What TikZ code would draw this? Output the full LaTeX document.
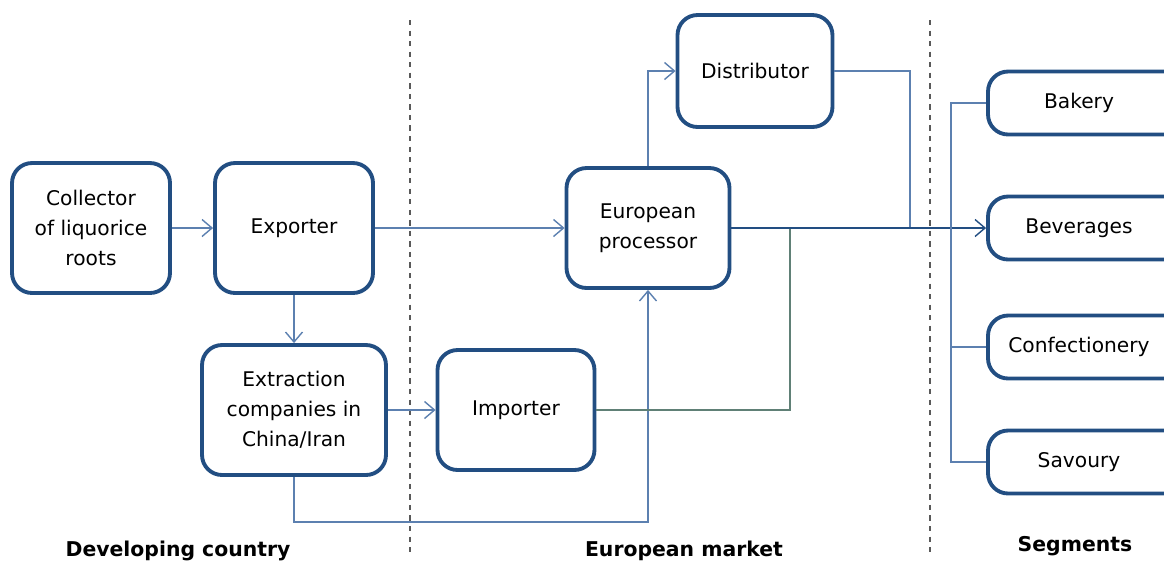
\documentclass[tikz,border=0pt]{standalone}
\usepackage{fontspec}
\setmainfont{DejaVu Sans}
\usetikzlibrary{arrows.meta}

\definecolor{boxblue}{RGB}{34,78,130}
\definecolor{flowblue}{RGB}{92,128,176}
\definecolor{flowgreen}{RGB}{96,128,118}

\tikzset{
    stage/.style={draw=boxblue, line width=2.2pt, rounded corners=0.4cm, fill=white,
        align=center, font=\fontsize{11.5}{17}\selectfont, inner sep=2pt},
    % boxes run off the right border, text sits left of centre
    segbox/.style={stage, minimum width=4.2cm, minimum height=1.26cm,
        execute at end node={\hspace{0.56cm}}},
    flow/.style={draw=flowblue, line width=0.8pt},
    region/.style={font=\bfseries\fontsize{11.6}{13}\selectfont}
}

\begin{document}
\begin{tikzpicture}[x=0.02cm, y=-0.02cm, >={Straight Barb[length=2mm, width=3.4mm]}]
    \useasboundingbox (0,0) rectangle (1164,566);

    % market borders
    \draw[dashed, gray!70!black, line width=0.9pt] (410,20) -- (410,556);
    \draw[dashed, gray!70!black, line width=0.9pt] (930,20) -- (930,556);

    \node[stage, minimum width=3.16cm, minimum height=2.6cm] (coll) at (91,228) {Collector\\of liquorice\\roots};
    \node[stage, minimum width=3.16cm, minimum height=2.6cm] (exp) at (294,228) {Exporter};
    \node[stage, minimum width=3.68cm, minimum height=2.6cm] (extr) at (294,410) {Extraction\\companies in\\China/Iran};
    \node[stage, minimum width=3.14cm, minimum height=2.4cm] (imp) at (516,410) {Importer};
    \node[stage, minimum width=3.26cm, minimum height=2.4cm] (proc) at (648,228) {European\\processor};
    \node[stage, minimum width=3.1cm, minimum height=2.24cm] (dist) at (755,71) {Distributor};

    \node[segbox] (bak) at (1093,103) {Bakery};
    \node[segbox] (bev) at (1093,228) {Beverages};
    \node[segbox] (conf) at (1093,347) {Confectionery};
    \node[segbox] (sav) at (1093,462) {Savoury};

    \coordinate (imjoin) at (790,228);
    \coordinate (dijoin) at (910,228);

    \draw[flow, ->] (coll) -- (exp);
    \draw[flow, ->] (exp) -- (proc);
    \draw[flow, ->] (exp) -- (extr);
    \draw[flow, ->] (extr) -- (imp);
    \draw[flow, ->] (extr.south) -- ++(0,45) -| (proc.south);
    \draw[flow, draw=flowgreen] (imp) -| (imjoin);
    \draw[flow, ->] (proc.north) |- (dist);
    \draw[flow] (dist) -| (dijoin);
    \draw[flow, draw=boxblue, line width=1.6pt, -{Straight Barb[length=2mm, width=3.4mm, line width=0.8pt]}] (proc) -- (bev);
    \draw[flow] (bak.west) -- ++(-35,0) |- (sav.west);
    \draw[flow] (conf.west) -- ++(-35,0);

    \node[region] (devlab) at (178,551) {Developing country};
    \node[region] (eulab) at (684,551) {European market};
    \node[region] (seglab) at (1075,546) {Segments};
\end{tikzpicture}
\end{document}
